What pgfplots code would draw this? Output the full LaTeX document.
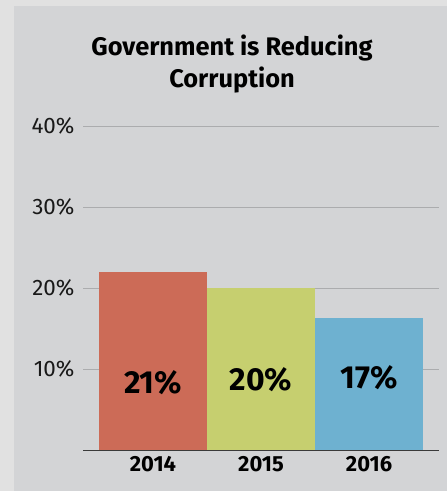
\documentclass[border=0pt]{standalone}
\usepackage{pgfplots}
\pgfplotsset{compat=1.18}
\usepackage{fontspec}
\setmainfont{Fira Sans}
\definecolor{outerbg}{HTML}{E1E1E1}
\definecolor{innerbg}{HTML}{D3D4D6}
\definecolor{cred}{HTML}{CC6B57}
\definecolor{cgreen}{HTML}{C6CF6F}
\definecolor{cblue}{HTML}{6EB1D0}
\definecolor{gridc}{HTML}{ABACAE}
\definecolor{axc}{HTML}{3A3A3A}
\begin{document}
\begin{tikzpicture}[x=1bp,y=1bp]
\fill[outerbg] (0,0) rectangle (447,491);
\fill[innerbg] (14,0) rectangle (447,485);
\useasboundingbox (0,0) rectangle (447,491);
\node[align=center, font=\fontsize{25.5}{32.5}\selectfont\bfseries, text=black] at (232,427) {Government is Reducing\\Corruption};
\begin{axis}[
  at={(83bp,41bp)}, anchor=south west,
  scale only axis, width=356bp, height=324bp,
  xmin=-0.648, xmax=2.648, ymin=0, ymax=40,
  ybar, bar width=1, /pgf/bar shift=0pt,
  axis x line=bottom, axis y line=left,
  x axis line style={draw=none},
  y axis line style={draw=none},
  xtick={0,1,2}, xticklabels={2014,2015,2016},
  ytick={10,20,30,40},
  yticklabel={\pgfmathprintnumber{\tick}\%},
  /pgf/number format/assume math mode=true,
  ymajorgrids, major grid style={gridc, line width=0.9pt},
  major tick length=0pt,
  xticklabel style={font=\fontsize{22}{22}\selectfont\bfseries, text=black, yshift=-3bp},
  yticklabel style={font=\fontsize{22.5}{22.5}\selectfont, text=black!90, xshift=-5bp},
  clip=false,
]
\addplot[fill=cred, draw=none] coordinates {(0,22)};
\addplot[fill=cgreen, draw=none] coordinates {(1,20)};
\addplot[fill=cblue, draw=none] coordinates {(2,16.3)};
\draw[axc, line width=1pt] (axis cs:-0.648,0) -- (axis cs:2.648,0);
\node[font=\fontsize{32}{32}\selectfont\bfseries] at (axis cs:0,8.3) {21\%};
\node[font=\fontsize{32}{32}\selectfont\bfseries] at (axis cs:1,8.7) {20\%};
\node[font=\fontsize{32}{32}\selectfont\bfseries] at (axis cs:2,8.9) {17\%};
\end{axis}
\end{tikzpicture}
\end{document}
